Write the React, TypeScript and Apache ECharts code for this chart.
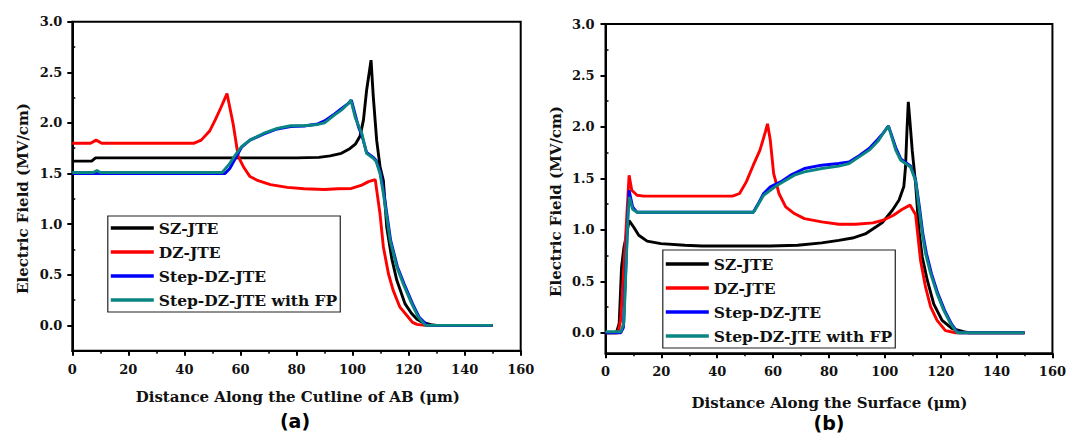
import React, { useEffect, useRef } from "react";
import * as echarts from "echarts";

// ---------- Data (a): Distance along the cutline of AB (µm) vs Electric field (MV/cm)
const aSZ: [number, number][] = [
  [0, 1.623], [6.9, 1.623], [8.3, 1.655], [20, 1.655], [40, 1.655], [60, 1.655], [80, 1.655],
  [88, 1.66], [92, 1.675], [96, 1.7], [99, 1.745], [101, 1.79], [102.7, 1.87], [103.9, 2.03],
  [105, 2.32], [106.6, 2.62], [107.4, 2.26], [108.6, 1.83], [109.8, 1.57], [111, 1.43],
  [112.2, 0.97], [114, 0.66], [115.8, 0.445], [118.7, 0.215], [121, 0.12], [123, 0.06],
  [125, 0.03], [128, 0.008], [130, 0], [150, 0],
];
const aDZ: [number, number][] = [
  [0, 1.8], [6.5, 1.8], [8.5, 1.83], [10.5, 1.8], [20, 1.8], [30, 1.8], [43.5, 1.8], [46, 1.83],
  [49, 1.92], [51, 2.03], [53, 2.15], [55.2, 2.29], [57.4, 1.99], [59.2, 1.67], [61, 1.57],
  [63.4, 1.47], [65.8, 1.436], [70.7, 1.39], [76.7, 1.363], [82.7, 1.35], [90, 1.343],
  [94.8, 1.35], [99.6, 1.353], [103.3, 1.386], [105.7, 1.42], [108.1, 1.44], [109.8, 1.1],
  [111, 0.775], [112.8, 0.51], [114.5, 0.346], [116.9, 0.18], [119.9, 0.08], [121.4, 0.03],
  [123, 0.01], [125.8, 0], [150, 0],
];
const aStep: [number, number][] = [
  [0, 1.5], [20, 1.5], [40, 1.5], [54.5, 1.5], [56.2, 1.55], [58.6, 1.67], [60.4, 1.76],
  [63.4, 1.83], [68.2, 1.89], [73.1, 1.94], [77.9, 1.965], [82.7, 1.97], [87.6, 1.99],
  [90, 2.02], [93.6, 2.09], [96, 2.14], [98.4, 2.19], [99.6, 2.225], [102.1, 1.96],
  [103.3, 1.88], [105, 1.71], [107.4, 1.66], [108.4, 1.63], [110, 1.5], [111.2, 1.3],
  [112.4, 1.07], [113.6, 0.84], [116, 0.58], [118.4, 0.41], [121.4, 0.215], [123.8, 0.08],
  [126.3, 0.01], [127, 0], [150, 0],
];
const aStepFP: [number, number][] = [
  [0, 1.51], [7.5, 1.51], [8.8, 1.53], [10, 1.51], [20, 1.51], [40, 1.51], [53.5, 1.51],
  [56.2, 1.6], [58.6, 1.7], [60.4, 1.765], [63.4, 1.83], [68.2, 1.896], [73.1, 1.946],
  [77.9, 1.972], [82.7, 1.972], [87.6, 1.985], [90, 2.0], [93.6, 2.08], [96, 2.127],
  [98.4, 2.19], [99.4, 2.225], [101, 2.05], [103.3, 1.896], [105, 1.7], [107.4, 1.65],
  [108.4, 1.62], [109.8, 1.5], [111, 1.3], [112.2, 1.07], [113.4, 0.84], [115.8, 0.577],
  [118.1, 0.41], [121.1, 0.215], [123.5, 0.08], [126, 0], [150, 0],
];

// ---------- Data (b): Distance along the surface (µm) vs Electric field (MV/cm)
const bSZ: [number, number][] = [
  [0, 0], [3.9, 0], [4.9, 0.09], [5.75, 0.64], [6.6, 0.83], [7.6, 0.96], [8.45, 1.09],
  [10, 1.03], [11.9, 0.947], [14.9, 0.89], [19.8, 0.866], [28.4, 0.85], [34.5, 0.843],
  [46.8, 0.843], [59, 0.843], [68.8, 0.85], [77.4, 0.873], [83.5, 0.898], [88.4, 0.92],
  [93, 0.96], [96.9, 1.03], [99.1, 1.07], [102.7, 1.19], [105.1, 1.29], [106.8, 1.42],
  [107.4, 1.61], [107.9, 1.95], [108.4, 2.244], [109, 2.05], [109.8, 1.774], [111, 1.45],
  [112.2, 1.0], [113.4, 0.736], [115.2, 0.51], [117.5, 0.28], [120.5, 0.12], [124.1, 0.04],
  [128.2, 0.01], [130, 0], [150, 0],
];
const bDZ: [number, number][] = [
  [0, 0], [4.5, 0], [5.4, 0.12], [6.6, 0.64], [7.6, 1.125], [8.45, 1.53], [9.4, 1.385],
  [11.3, 1.336], [13.7, 1.327], [30, 1.327], [45.5, 1.327], [48, 1.353], [50.4, 1.466],
  [52.9, 1.628], [55.3, 1.774], [57.2, 1.95], [58, 2.03], [59, 1.87], [60.2, 1.547],
  [62.1, 1.353], [64.5, 1.223], [67.6, 1.158], [71.2, 1.109], [77.4, 1.077], [83.5, 1.054],
  [89.6, 1.054], [95.7, 1.067], [99.4, 1.093], [103.1, 1.142], [106.1, 1.197], [109, 1.24],
  [111, 1.15], [112.8, 0.7], [114.6, 0.44], [116.4, 0.25], [118.7, 0.12], [121.7, 0.02],
  [125.3, 0], [150, 0],
];
const bStep: [number, number][] = [
  [0, 0], [5.5, 0], [6.4, 0.05], [7.3, 0.64], [8, 1.16], [8.45, 1.385], [9.7, 1.223],
  [11.3, 1.17], [20, 1.17], [40, 1.17], [52.9, 1.17], [54.7, 1.255], [56.6, 1.353],
  [59, 1.417], [62.7, 1.466], [66.3, 1.531], [71.2, 1.596], [77.4, 1.628], [83.5, 1.645],
  [87.2, 1.66], [90.8, 1.72], [94.4, 1.79], [97.5, 1.88], [99.4, 1.94], [101.3, 2.01],
  [103.9, 1.8], [105.7, 1.69], [107.4, 1.655], [109.2, 1.62], [111, 1.49], [112.4, 1.22],
  [113.6, 0.963], [114.9, 0.77], [116.7, 0.574], [119, 0.38], [121.4, 0.217], [123.8, 0.088],
  [125.6, 0.02], [126.5, 0], [150, 0],
];
const bStepFP: [number, number][] = [
  [0, 0.01], [5.5, 0.01], [6.6, 0.1], [7.3, 0.6], [8, 1.1], [8.5, 1.32], [9.7, 1.2],
  [11.3, 1.17], [20, 1.17], [40, 1.17], [53, 1.17], [54.1, 1.22], [56.6, 1.336],
  [61.5, 1.434], [67.6, 1.531], [71.2, 1.563], [77.4, 1.596], [83.5, 1.619], [87.2, 1.644],
  [90.8, 1.709], [94.4, 1.774], [97.5, 1.86], [99.4, 1.936], [101.3, 2.007], [103.9, 1.774],
  [105.7, 1.676], [107.4, 1.644], [109.2, 1.61], [111, 1.48], [112.2, 1.22], [113.4, 0.963],
  [114.6, 0.769], [116.4, 0.574], [118.7, 0.38], [121.1, 0.217], [123.5, 0.088],
  [125.3, 0.022], [126, 0], [150, 0],
];

const seriesNames = ["SZ-JTE", "DZ-JTE", "Step-DZ-JTE", "Step-DZ-JTE with FP"];
const seriesColors = ["#000000", "#ff0000", "#0000ff", "#0a8582"];
const yMajorTicks = [0, 0.5, 1.0, 1.5, 2.0, 2.5, 3.0];
const yMinorTicks = [0.25, 0.75, 1.25, 1.75, 2.25, 2.75];
const xTitles = ["Distance Along the Cutline of AB (\u03bcm)", "Distance Along the Surface (\u03bcm)"];
const yTitle = "Electric Field (MV/cm)";
const panelLabels = ["(a)", "(b)"];

const SERIF = "'DejaVu Serif', 'Liberation Serif', serif";
const SANS = "'DejaVu Sans', 'Liberation Sans', sans-serif";
const INK = "#111";

export default function App() {
  const ref = useRef<HTMLDivElement>(null);

  useEffect(() => {
    if (!ref.current) return;
    const chart = echarts.init(ref.current, undefined, { renderer: "svg" });

    const grids = [
      { left: 72.3, top: 21.7, width: 448.4, height: 329, yMin: -0.25, labelMargin: 10 },
      { left: 605.5, top: 24, width: 448.5, height: 329.3, yMin: -0.2, labelMargin: 11 },
    ];

    const axisLine = { show: true, onZero: false, lineStyle: { color: "#000", width: 2 } };
    const tickLabel = { fontFamily: SERIF, fontWeight: "bold" as const, fontSize: 13, color: INK };

    const xAxis = grids.map((g, i) => ({
      type: "value" as const,
      gridIndex: i,
      min: 0,
      max: 160,
      interval: 20,
      axisLine,
      axisTick: { show: true, length: 5, lineStyle: { color: "#000", width: 2 } },
      minorTick: { show: true, splitNumber: 2, length: 3, lineStyle: { color: "#000", width: 1.5 } },
      splitLine: { show: false },
      minorSplitLine: { show: false },
      axisLabel: { ...tickLabel, margin: 12 },
    }));

    const yAxis: any[] = [];
    grids.forEach((g, i) => {
      yAxis.push({
        type: "value",
        gridIndex: i,
        min: g.yMin,
        max: 3,
        axisLine,
        axisTick: { show: true, length: 5, customValues: yMajorTicks, lineStyle: { color: "#000", width: 2 } },
        axisLabel: {
          ...tickLabel,
          margin: g.labelMargin,
          customValues: yMajorTicks,
          formatter: (v: number) => v.toFixed(1),
        },
        splitLine: { show: false },
      });
      yAxis.push({
        type: "value",
        gridIndex: i,
        min: g.yMin,
        max: 3,
        axisLine: { show: false },
        axisTick: { show: true, length: 3, customValues: yMinorTicks, lineStyle: { color: "#000", width: 1.5 } },
        axisLabel: { show: false },
        splitLine: { show: false },
      });
    });

    const panels = [
      [aSZ, aDZ, aStep, aStepFP],
      [bSZ, bDZ, bStep, bStepFP],
    ];
    const series: any[] = [];
    panels.forEach((sets, p) => {
      sets.forEach((data, k) => {
        series.push({
          type: "line",
          name: seriesNames[k],
          xAxisIndex: p,
          yAxisIndex: p * 2,
          data,
          symbol: "none",
          showSymbol: false,
          smooth: false,
          color: seriesColors[k],
          lineStyle: { color: seriesColors[k], width: 2.9 },
          z: 2 + k,
        });
      });
    });

    const legendBase = {
      data: seriesNames,
      orient: "vertical" as const,
      icon: "rect",
      itemWidth: 43,
      itemHeight: 3.5,
      itemGap: 6,
      borderColor: "#222",
      borderWidth: 1.2,
      backgroundColor: "#fff",
      selectedMode: false,
      textStyle: { fontFamily: SERIF, fontWeight: "bold" as const, fontSize: 15.5, color: INK, lineHeight: 18 },
    };

    const option: any = {
      animation: false,
      backgroundColor: "#fff",
      grid: grids.map((g) => ({
        left: g.left,
        top: g.top,
        width: g.width,
        height: g.height,
        show: true,
        borderColor: "#000",
        borderWidth: 2,
        backgroundColor: "transparent",
      })),
      xAxis,
      yAxis,
      legend: [
        { ...legendBase, left: 107.8, top: 216, padding: [3, 3, 3, 3] },
        { ...legendBase, left: 662.8, top: 250, padding: [5, 3, 3, 3] },
      ],
      graphic: [
        {
          type: "text",
          x: 297.8,
          y: 396.5,
          style: { text: xTitles[0], font: `bold 15px ${SERIF}`, fill: INK, textAlign: "center", textVerticalAlign: "middle" },
        },
        {
          type: "text",
          x: 829.5,
          y: 403,
          style: { text: xTitles[1], font: `bold 15px ${SERIF}`, fill: INK, textAlign: "center", textVerticalAlign: "middle" },
        },
        {
          type: "text",
          x: 22.5,
          y: 198.5,
          rotation: Math.PI / 2,
          style: { text: yTitle, font: `bold 15px ${SERIF}`, fill: INK, textAlign: "center", textVerticalAlign: "middle" },
        },
        {
          type: "text",
          x: 556,
          y: 201.5,
          rotation: Math.PI / 2,
          style: { text: yTitle, font: `bold 15px ${SERIF}`, fill: INK, textAlign: "center", textVerticalAlign: "middle" },
        },
        {
          type: "text",
          x: 295,
          y: 421,
          style: { text: panelLabels[0], font: `bold 19px ${SANS}`, fill: "#000", textAlign: "center", textVerticalAlign: "middle" },
        },
        {
          type: "text",
          x: 829,
          y: 423,
          style: { text: panelLabels[1], font: `bold 19px ${SANS}`, fill: "#000", textAlign: "center", textVerticalAlign: "middle" },
        },
      ],
      series,
    };

    chart.setOption(option);
    return () => chart.dispose();
  }, []);

  return (
    <div
      ref={ref}
      style={{ position: "fixed", left: 0, top: 0, width: 1069, height: 435, background: "#fff" }}
    />
  );
}
